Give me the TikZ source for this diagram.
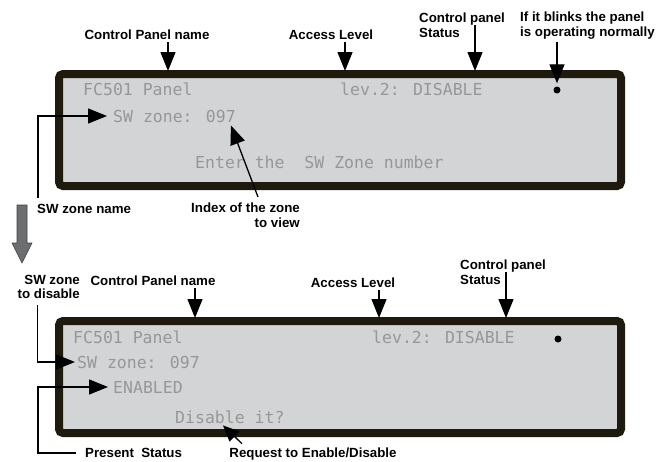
\documentclass[tikz,border=0pt]{standalone}
\usepackage{fontspec}
\setmainfont{Liberation Sans}
\newfontfamily\lcdfont{DejaVu Sans Mono}
\usepackage{xcolor}
\usetikzlibrary{positioning, arrows.meta}
\definecolor{lcdgray}{HTML}{D3D4D6}
\definecolor{lcdtext}{HTML}{979797}
\definecolor{lcdframe}{HTML}{1F1A0E}
\definecolor{bigarrow}{HTML}{6D6E70}

\tikzset{
  lcd/.style={draw=lcdframe, line width=8pt, rounded corners=4pt, fill=lcdgray,
              minimum width=562pt, minimum height=112pt},
  lcdline/.style={font=\lcdfont\fontsize{16.5}{18}\selectfont, text=lcdtext,
                  inner sep=0pt, anchor=base west},
  callout/.style={font=\bfseries\fontsize{13.3}{14.5}\selectfont, inner sep=0pt},
  pointer/.style={line width=1.3pt, shorten <=3pt, -{Triangle[length=19pt,width=15pt]}},
  smallpointer/.style={line width=1.3pt, -{Triangle[length=16pt,width=14pt]}},
  blinkdot/.style={circle, fill=black, minimum size=7pt, inner sep=0pt},
}

\begin{document}
\begin{tikzpicture}[x=1pt, y=-1pt]
  \useasboundingbox (0,0) rectangle (668,461);

  % first display
  \node[lcd] (panelA) at (340,130) {};
  \node[lcdline] (nameLineA) at (83,95) {FC501 Panel};
  \node[lcdline] (levA) at (340,95) {lev.2: DISABLE};
  \node[lcdline] (swA) at (113,122) {SW zone: 097};
  \node[lcdline] (enterA) at (195,168) {Enter the~ SW Zone number};
  \node[blinkdot] (dotA) at (557,90) {};

  \node[callout, anchor=base] (nameA) at (147,39) {Control Panel name};
  \node[callout, anchor=base] (levelA) at (331,39) {Access Level};
  \node[callout, anchor=north west, align=left] (statA) at (419,13) {Control panel\\Status};
  \node[callout, anchor=north west, align=left] (blinkA) at (520,12) {If it blinks the panel\\is operating normally};
  \node[callout, anchor=base west] (swnameA) at (37,213) {SW zone name};
  \node[callout, anchor=north east, align=right] (indexA) at (300,203) {Index of the zone\\to view};

  \coordinate (tipA1) at (168,71);
  \coordinate (tipA2) at (345,71);
  \coordinate (tipA3) at (475,71);

  \draw[pointer] (nameA.south -| tipA1) -- (tipA1);
  \draw[pointer] (levelA.south -| tipA2) -- (tipA2);
  \draw[pointer, shorten <=0pt] ([yshift=-12pt]statA.north -| tipA3) -- (tipA3);
  \draw[pointer, shorten >=3pt] (blinkA.south -| dotA) -- (dotA.north);
  \draw[pointer, shorten <=0pt] ([xshift=1pt,yshift=6pt]swnameA.north west) |- ([xshift=-6pt]swA.west);
  \draw[pointer, shorten <=0pt] ([xshift=-42pt,yshift=6pt]indexA.north east) -- ([xshift=-5pt,yshift=-3pt]swA.south east);

  % step to the second display
  \filldraw[fill=bigarrow, draw=black!75, line width=0.6pt]
    (17,205) -- (27,205) -- (27,243) -- (32,243) -- (22,263) -- (12,243) -- (17,243) -- cycle;

  % second display
  \node[lcd] (panelB) at (340,377) {};
  \node[lcdline] (nameLineB) at (73,343) {FC501 Panel};
  \node[lcdline] (levB) at (372,343) {lev.2: DISABLE};
  \node[lcdline] (swB) at (77,368) {SW zone: 097};
  \node[lcdline] (enabB) at (113,393) {ENABLED};
  \node[lcdline] (disqB) at (175,423) {Disable it?};
  \node[blinkdot] (dotB) at (558,339) {};

  \node[callout, anchor=north east, align=right] (disB) at (80,275) {SW zone\\to disable};
  \node[callout, anchor=base] (nameB) at (153,285) {Control Panel name};
  \node[callout, anchor=base] (levelB) at (353,287) {Access Level};
  \node[callout, anchor=north west, align=left] (statB) at (460,260) {Control panel\\Status};
  \node[callout, anchor=base west] (presB) at (85,457.5) {Present~ Status};
  \node[callout, anchor=base] (reqB) at (313,457.5) {Request to Enable/Disable};

  \coordinate (tipB1) at (195,318);
  \coordinate (tipB2) at (379,318);
  \coordinate (tipB3) at (506,318);

  \draw[pointer] (nameB.south -| tipB1) -- (tipB1);
  \draw[pointer] (levelB.south -| tipB2) -- (tipB2);
  \draw[pointer, shorten <=0pt] ([yshift=-12pt]statB.north -| tipB3) -- (tipB3);
  \draw[pointer, shorten <=0pt] ([xshift=20pt,yshift=-6pt]disB.south west) |- ([xshift=-2pt]swB.west);
  \draw[pointer, shorten <=0pt] ([xshift=-9pt]presB.west) -- ++(-38,0) |- ([xshift=-5pt]enabB.west);
  \draw[smallpointer] ([xshift=-71pt,yshift=4pt]reqB.north) -- ([xshift=48pt,yshift=-2pt]disqB.south west);
\end{tikzpicture}
\end{document}
